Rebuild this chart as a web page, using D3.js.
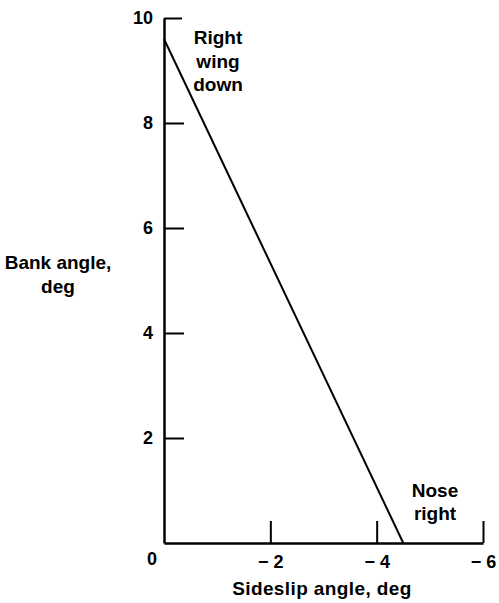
<!DOCTYPE html>
<html><head><meta charset="utf-8">
<script src="https://cdn.jsdelivr.net/npm/d3@7"></script>
<style>body{margin:0;background:#fff}svg{display:block}text{font-family:"Liberation Sans",Arial,sans-serif;font-weight:bold;fill:#000}</style>
</head><body><svg id="c" width="499" height="603"></svg>
<script>
const sideslip = [0, -4.5];
const bank = [9.6, 0];
const xTicks = [-2, -4, -6];
const xTickLabels = ["\u2212 2", "\u2212 4", "\u2212 6"];
const yTicks = [2, 4, 6, 8, 10];
const yTickLabels = ["2", "4", "6", "8", "10"];

const svg = d3.select("#c");
const x = d3.scaleLinear().domain([0, -6]).range([164, 483]);
const y = d3.scaleLinear().domain([0, 10]).range([543, 18]);

const xAxis = d3.axisBottom(x).tickValues(xTicks)
  .tickFormat((d, i) => xTickLabels[i]).tickSize(-22).tickSizeOuter(0).tickPadding(12);
const yAxis = d3.axisLeft(y).tickValues(yTicks)
  .tickFormat((d, i) => yTickLabels[i]).tickSize(-20).tickSizeOuter(0).tickPadding(11);

const gx = svg.append("g").attr("transform", `translate(0,${y(0)})`).call(xAxis);
const gy = svg.append("g").attr("transform", `translate(${x(0)},0)`).call(yAxis);
[gx, gy].forEach(g => {
  g.select(".domain").attr("stroke", "#000").attr("stroke-width", 2.5);
  g.selectAll(".tick line").attr("stroke", "#000").attr("stroke-width", 2);
  g.selectAll(".tick text").style("font-size", "18px").attr("fill", "#000");
});
gy.selectAll(".tick line").filter(d => d === 10).attr("x2", 18);

svg.append("text").attr("x", x(0) - 12).attr("y", y(0) + 22).attr("text-anchor", "middle").style("font-size", "18px").text("0");

const line = d3.line().x((d, i) => x(sideslip[i])).y((d, i) => y(bank[i]));
svg.append("path").datum(sideslip).attr("d", line).attr("fill", "none").attr("stroke", "#000").attr("stroke-width", 2);

svg.append("text").attr("x", 322).attr("y", 595).attr("text-anchor", "middle").style("font-size", "19px").style("letter-spacing", "0.4px").text("Sideslip angle, deg");
const yt = svg.append("text").attr("text-anchor", "middle").style("font-size", "19px");
yt.append("tspan").attr("x", 58).attr("y", 269).text("Bank angle,");
yt.append("tspan").attr("x", 58).attr("y", 293).text("deg");

const a1 = svg.append("text").attr("text-anchor", "middle").style("font-size", "19px");
[["Right", 44], ["wing", 68], ["down", 91]].forEach(([t, yy]) => a1.append("tspan").attr("x", 218).attr("y", yy).text(t));
const a2 = svg.append("text").attr("text-anchor", "middle").style("font-size", "19px");
[["Nose", 497], ["right", 520]].forEach(([t, yy]) => a2.append("tspan").attr("x", 435).attr("y", yy).text(t));
</script></body></html>
